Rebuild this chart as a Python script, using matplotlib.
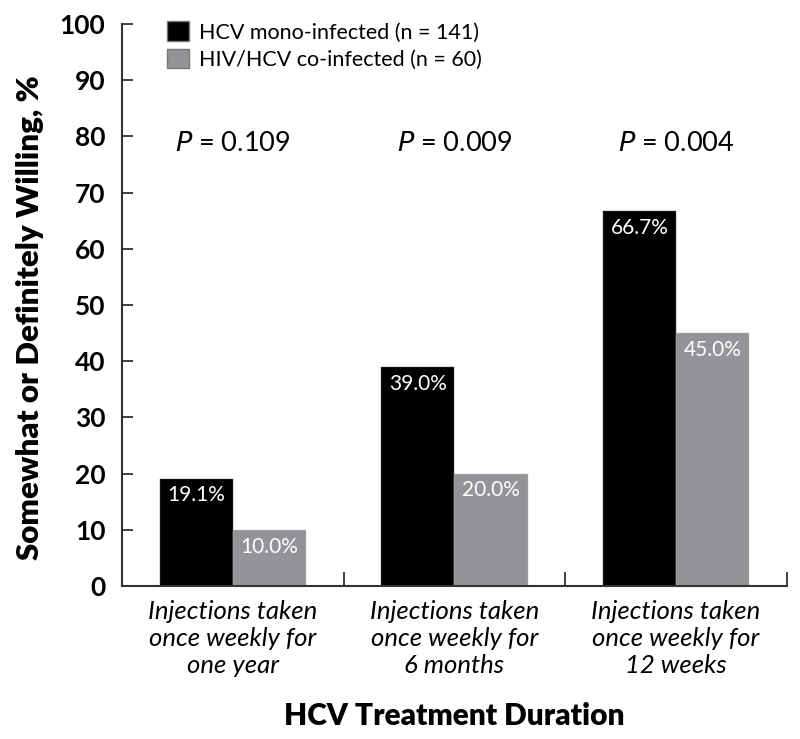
import matplotlib.pyplot as plt
import numpy as np

# data
categories = ["Injections taken\nonce weekly for\none year",
              "Injections taken\nonce weekly for\n6 months",
              "Injections taken\nonce weekly for\n12 weeks"]
mono = [19.1, 39.0, 66.7]
coinf = [10.0, 20.0, 45.0]
p_values = ["0.109", "0.009", "0.004"]
series_labels = ["HCV mono-infected (n = 141)", "HIV/HCV co-infected (n = 60)"]

plt.rcParams['font.family'] = ['Lato', 'DejaVu Sans']

fig = plt.figure(figsize=(8, 7.39), dpi=100)
ax = fig.add_axes([0.1525, 0.207, 0.831, 0.7605])

x = np.arange(len(categories))
w = 0.33
b1 = ax.bar(x - w / 2, mono, w, color='black', label=series_labels[0],
            edgecolor='#555555', linewidth=0.3)
b2 = ax.bar(x + w / 2, coinf, w, color='#949498', label=series_labels[1],
            edgecolor='#bbbbbb', linewidth=0.3)

for xi, v in zip(x - w / 2, mono):
    ax.text(xi, v - 1.2, f"{v:.1f}%", color='white', ha='center', va='top', fontsize=15)
for xi, v in zip(x + w / 2, coinf):
    ax.text(xi, v - 1.2, f"{v:.1f}%", color='white', ha='center', va='top', fontsize=15)

for xi, p in zip(x, p_values):
    ax.text(xi, 78.8, f"$\\it{{P}}$ = {p}", ha='center', va='center', fontsize=19.5)

ax.set_xlim(-0.5, 2.5)
ax.set_ylim(0, 100)
ax.set_yticks(np.arange(0, 101, 10))
ax.set_yticklabels([str(t) for t in range(0, 101, 10)], fontsize=19, fontweight='bold')
ax.tick_params(axis='y', direction='in', length=8, width=1.3, pad=12, colors='#333333',
               labelcolor='black')

ax.set_xticks(x)
ax.set_xticklabels(categories, fontsize=18.5, style='italic', linespacing=1.2)
ax.tick_params(axis='x', which='major', length=0, pad=10)
ax.set_xticks([0.5, 1.5, 2.5], minor=True)
ax.tick_params(axis='x', which='minor', direction='in', length=10, width=1.3, colors='#333333')

for s in ['top', 'right']:
    ax.spines[s].set_visible(False)
for s in ['left', 'bottom']:
    ax.spines[s].set_color('#333333')
    ax.spines[s].set_linewidth(1.5)

ax.set_xlabel("HCV Treatment Duration", fontsize=21.5, fontweight='heavy', labelpad=18)
ax.set_ylabel("Somewhat or Definitely Willing, %", fontsize=22.5, fontweight='heavy')
ax.yaxis.set_label_coords(-0.118, 0.478)

leg = ax.legend(loc='upper left', bbox_to_anchor=(0.055, 1.02), frameon=False,
                fontsize=15.5, handlelength=1.0, handleheight=1.0, handletextpad=0.5,
                labelspacing=0.3, borderaxespad=0)
for h in leg.legend_handles:
    h.set_edgecolor('#777777')
    h.set_linewidth(1)

fig.savefig("out.png", dpi=100)
